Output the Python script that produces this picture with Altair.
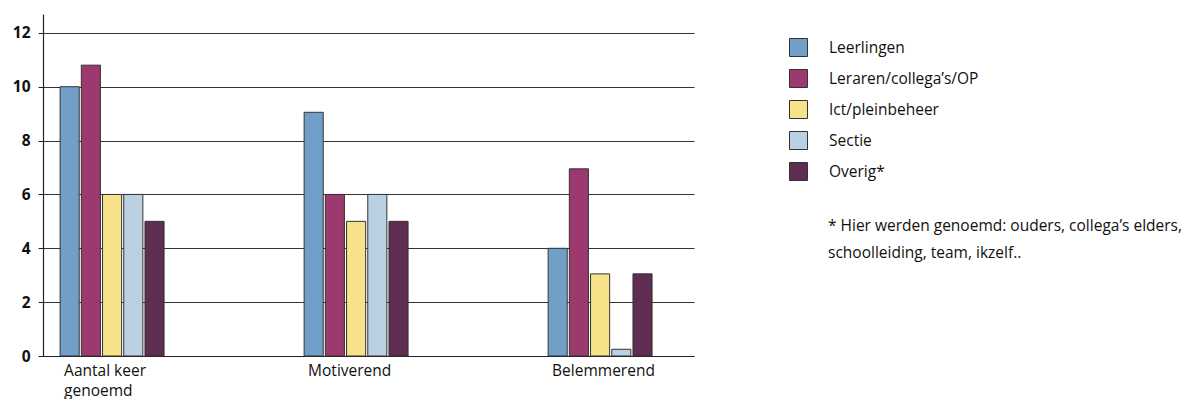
import altair as alt
import pandas as pd

# Category groups along the x axis
groups = ["Aantal keer genoemd", "Motiverend", "Belemmerend"]

# Series (legend entries) and their fill colours
series = ["Leerlingen", "Leraren/collega’s/OP", "Ict/pleinbeheer", "Sectie", "Overig*"]
colors = ["#729fc8", "#9c3a70", "#f7e28a", "#bcd0e4", "#5f2c52"]

# Values per series, in the order of `groups`
leerlingen = [10, 9.05, 4]
leraren = [10.8, 6, 6.95]
ict = [6, 5, 3.05]
sectie = [6, 6, 0.25]
overig = [5, 5, 3.05]

y_ticks = [0, 2, 4, 6, 8, 10, 12]

footnote = ["* Hier werden genoemd: ouders, collega’s elders,",
            "schoolleiding, team, ikzelf.."]

rows = []
for name, vals in zip(series, [leerlingen, leraren, ict, sectie, overig]):
    for g, v in zip(groups, vals):
        rows.append({"groep": g, "reeks": name, "aantal": v})
df = pd.DataFrame(rows)

FONT = "Open Sans"
SIZE = 15.5

bars = alt.Chart(df).mark_bar(stroke="#333333", strokeWidth=1).encode(
    x=alt.X(
        "groep:N",
        sort=groups,
        title=None,
        scale=alt.Scale(paddingInner=0.574, paddingOuter=0.121, align=0.29),
        axis=alt.Axis(
            labelAngle=0,
            labelAlign="left",
            labelBaseline="top",
            labelOffset=-48,
            labelPadding=7,
            labelFont=FONT,
            labelFontSize=SIZE,
            labelColor="#111111",
            labelLineHeight=20,
            labelExpr="datum.value == 'Aantal keer genoemd' ? ['Aantal keer', 'genoemd'] : datum.value",
            ticks=False,
            domainColor="#222222",
            domainWidth=1.2,
            grid=False,
        ),
    ),
    xOffset=alt.XOffset("reeks:N", sort=series,
                        scale=alt.Scale(paddingInner=0.1, paddingOuter=0)),
    y=alt.Y(
        "aantal:Q",
        title=None,
        scale=alt.Scale(domain=[0, 12.7], nice=False),
        axis=alt.Axis(
            values=y_ticks,
            labelFont=FONT,
            labelFontSize=SIZE,
            labelFontWeight="bold",
            labelColor="#111111",
            labelPadding=8,
            tickSize=5,
            tickColor="#222222",
            domainColor="#222222",
            domainWidth=1.2,
            gridColor="#333333",
            gridWidth=1,
            gridOpacity=1,
        ),
    ),
    color=alt.Color(
        "reeks:N",
        sort=series,
        scale=alt.Scale(domain=series, range=colors),
        legend=alt.Legend(
            title=None,
            orient="none",
            legendX=746,
            legendY=24,
            symbolType="square",
            symbolSize=324,
            symbolStrokeColor="#333333",
            symbolStrokeWidth=1,
            symbolOpacity=1,
            labelFont=FONT,
            labelFontSize=SIZE,
            labelColor="#111111",
            labelOffset=21,
            rowPadding=8,
        ),
    ),
)

note = alt.Chart(pd.DataFrame({"t": [footnote]})).mark_text(
    align="left", baseline="middle", font=FONT, fontSize=SIZE,
    color="#111111", lineHeight=27,
).encode(
    text="t",
    x=alt.value(785),
    y=alt.value(212),
)

chart = alt.layer(bars, note).properties(
    width=651,
    height=342,
    padding={"left": 43, "top": 14, "right": 498, "bottom": 43},
    autosize=alt.AutoSizeParams(type="none"),
    background="white",
).configure_view(stroke=None)

chart.save("out.html", embed_options={"renderer": "svg", "actions": False})
